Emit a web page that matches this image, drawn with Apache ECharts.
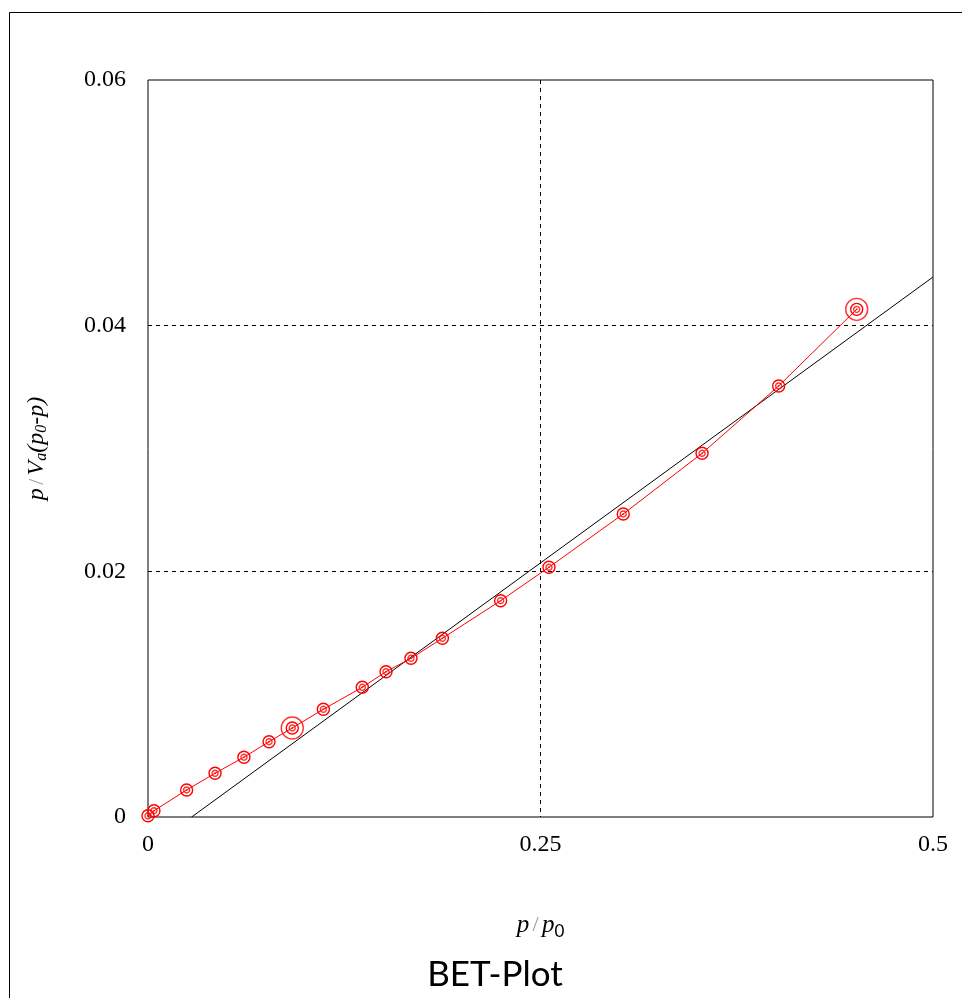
<!DOCTYPE html>
<html>
<head>
<meta charset="utf-8">
<script src="https://cdn.jsdelivr.net/npm/echarts@6/dist/echarts.min.js"></script>
<style>
  html, body { margin: 0; padding: 0; background: #fff; }
  #chart { width: 962px; height: 998px; }
</style>
</head>
<body>
<div id="chart"></div>
<script>
// Relative pressure p/p0
const relPressure = [0.0000, 0.0038, 0.0246, 0.0427, 0.0611, 0.0771, 0.0919, 0.1117, 0.1365,
  0.1516, 0.1675, 0.1875, 0.2246, 0.2554, 0.3027, 0.3529, 0.4017, 0.4514];
// BET transform p / Va(p0 - p)
const betValue = [0.0001, 0.00051, 0.0022, 0.00356, 0.00487, 0.00613, 0.00725, 0.00877, 0.01056,
  0.01183, 0.01292, 0.01455, 0.01761, 0.02033, 0.02467, 0.02961, 0.03509, 0.04133];
// Points bounding the selected fit range
const rangeMarks = [6, 17];
// Linear BET fit, drawn from its x-intercept to the right edge
const fitX = [0.0278, 0.5];
const fitY = [0, 0.04396];

const xTicks = [0, 0.25, 0.5];
const yTicks = [0, 0.02, 0.04, 0.06];

const points = relPressure.map((x, i) => [x, betValue[i]]);
const marked = rangeMarks.map(i => points[i]);
const fitLine = fitX.map((x, i) => [x, fitY[i]]);

const serif = '"Liberation Serif", "Times New Roman", serif';
const RED = '#ff0000';
const ring = { color: 'rgba(0,0,0,0)', borderColor: RED, borderWidth: 1.4 };

const chart = echarts.init(document.getElementById('chart'), null, { renderer: 'canvas' });
chart.setOption({
  animation: false,
  backgroundColor: '#ffffff',
  title: {
    text: 'BET-Plot',
    left: 490,
    top: 952,
    textAlign: 'center',
    textStyle: { fontFamily: 'Lato, "Open Sans", sans-serif', fontSize: 35, fontWeight: 'normal', color: '#000' }
  },
  graphic: [{
    type: 'rect',
    silent: true,
    shape: { x: 9.5, y: 12.5, width: 1000, height: 1000 },
    style: { fill: 'none', stroke: '#000', lineWidth: 1 }
  }],
  grid: {
    left: 148, right: 29, top: 80, bottom: 181,
    show: true, borderColor: '#000', borderWidth: 1, backgroundColor: 'transparent'
  },
  xAxis: {
    type: 'value',
    min: xTicks[0], max: xTicks[xTicks.length - 1], interval: 0.25,
    axisLine: { show: false },
    axisTick: { show: false },
    axisLabel: {
      margin: 16, fontFamily: serif, fontSize: 24, color: '#000',
      formatter: v => String(v)
    },
    splitLine: { show: true, showMinLine: false, showMaxLine: false, lineStyle: { color: '#000', type: [4, 4], width: 1 } },
    name: '{i|p} {s|/} {i|p}{sub|0}',
    nameLocation: 'middle',
    nameGap: 94,
    nameTextStyle: {
      rich: {
        i: { fontFamily: serif, fontStyle: 'italic', fontSize: 25, color: '#000' },
        s: { fontFamily: serif, fontSize: 22, color: '#999' },
        sub: { fontFamily: 'Lato, sans-serif', fontSize: 17, color: '#000', verticalAlign: 'bottom', padding: [12, 0, 0, 0] }
      }
    }
  },
  yAxis: {
    type: 'value',
    min: yTicks[0], max: yTicks[yTicks.length - 1], interval: 0.02,
    axisLine: { show: false },
    axisTick: { show: false },
    axisLabel: {
      margin: 22, fontFamily: serif, fontSize: 24, color: '#000',
      formatter: v => v === 0 ? '0' : v.toFixed(2)
    },
    splitLine: { show: true, showMinLine: false, showMaxLine: false, lineStyle: { color: '#000', type: [4, 4], width: 1 } },
    name: '{i|p} {s|/} {i|V}{sub|a}{i|(p}{sub|0}{i|-p)}',
    nameLocation: 'middle',
    nameGap: 98,
    nameRotate: 90,
    nameTextStyle: {
      rich: {
        i: { fontFamily: serif, fontStyle: 'italic', fontSize: 24, color: '#000' },
        s: { fontFamily: serif, fontSize: 22, color: '#999' },
        sub: { fontFamily: serif, fontStyle: 'italic', fontSize: 16, color: '#000', verticalAlign: 'bottom', padding: [10, 0, 0, 0] }
      }
    }
  },
  series: [
    {
      name: 'fit',
      type: 'line',
      data: fitLine,
      showSymbol: false,
      lineStyle: { color: '#000', width: 1 },
      silent: true,
      z: 2
    },
    {
      name: 'BET',
      type: 'line',
      data: points,
      symbol: 'circle',
      symbolSize: 12,
      lineStyle: { color: RED, width: 1 },
      itemStyle: ring,
      emphasis: { disabled: true },
      z: 3
    },
    {
      name: 'BET inner',
      type: 'scatter',
      data: points,
      symbol: 'circle',
      symbolSize: 6,
      itemStyle: ring,
      emphasis: { disabled: true },
      z: 4
    },
    {
      name: 'BET centre',
      type: 'scatter',
      data: points,
      symbol: 'circle',
      symbolSize: 2,
      itemStyle: { color: RED },
      emphasis: { disabled: true },
      z: 4
    },
    {
      name: 'range',
      type: 'scatter',
      data: marked,
      symbol: 'circle',
      symbolSize: 22,
      itemStyle: ring,
      emphasis: { disabled: true },
      z: 4
    }
  ]
});
</script>
</body>
</html>
